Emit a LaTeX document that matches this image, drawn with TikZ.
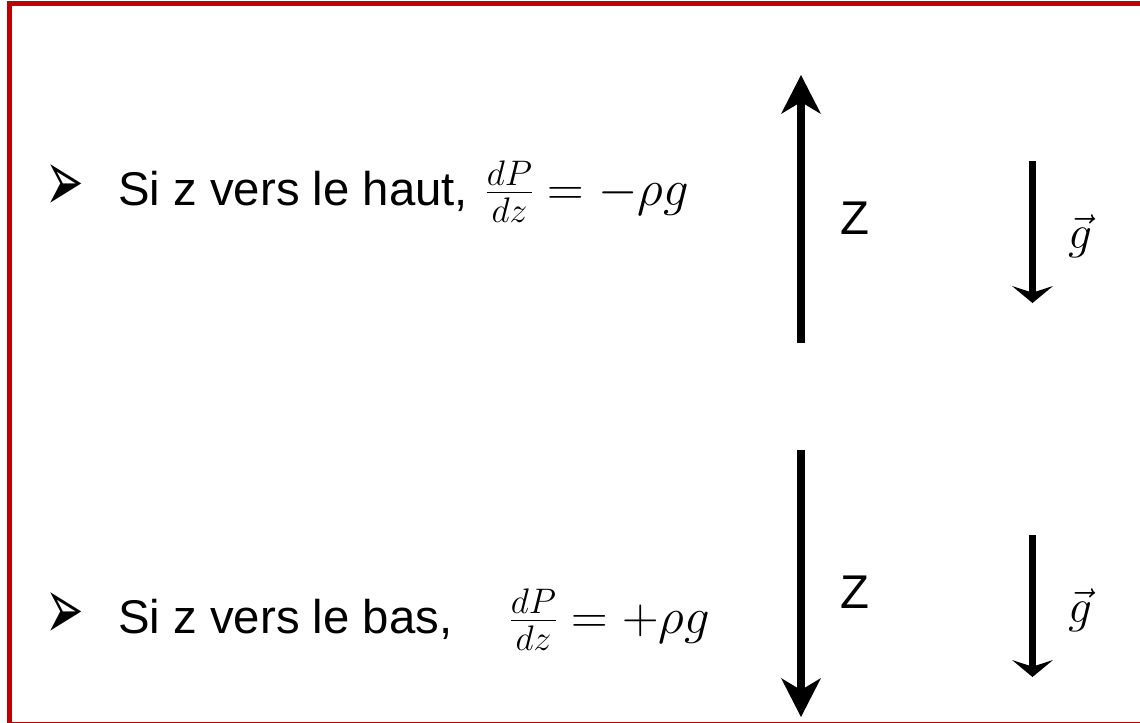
\RequirePackage{fix-cm}
\documentclass[tikz,border=0pt]{standalone}
\usepackage{amsmath}
\usepackage{graphicx}
\usepackage{fontspec}
\setmainfont{Liberation Sans}
\newfontfamily\symbfont{DejaVu Sans}
\usetikzlibrary{arrows.meta}
\definecolor{framered}{HTML}{C00000}
\newcommand{\puceglyph}{\scalebox{1.15}[2.2]{\symbfont ➢}}

\begin{document}
\begin{tikzpicture}[
  x=0.75pt, y=-0.75pt,
  txt/.style={anchor=base west, inner sep=0pt, font=\fontsize{35.5}{40}\selectfont},
  eq/.style={anchor=base west, inner sep=0pt, font=\fontsize{38}{44}\selectfont},
  lbl/.style={inner sep=0pt, font=\fontsize{35.5}{40}\selectfont},
  puce/.style={inner sep=0pt, font=\fontsize{30}{34}\selectfont},
  axe/.style={line width=6pt, -{Stealth[length=29.25pt, width=30pt, inset=9pt, line width=0pt]}},
  grav/.style={line width=5.5pt, -{Stealth[length=12.75pt, width=30.75pt, inset=5pt, line width=0pt]}},
]
\useasboundingbox (0,0) rectangle (1140,722);
\clip (0,0) rectangle (1140,722);
\draw[framered, line width=3.75pt] (9.5,3.5) rectangle (1150,724);

\node[puce] (puce1) at (65,188) {\puceglyph};
\node[txt] (haut) at (118,205) {Si z vers le haut,};
\node[eq] (eqhaut) at (485,205) {$\frac{dP}{dz}=-\rho g$};
\node[puce] (puce2) at (65,616) {\puceglyph};
\node[txt] (bas) at (118,633) {Si z vers le bas,};
\node[eq] (eqbas) at (509,633) {$\frac{dP}{dz}=+\rho g$};

\coordinate (zh0) at (801,343);
\coordinate (zh1) at (801,75);
\coordinate (zb0) at (801,450);
\coordinate (zb1) at (801,717);
\coordinate (gh0) at (1032.5,161);
\coordinate (gh1) at (1032.5,303);
\coordinate (gb0) at (1032.5,535);
\coordinate (gb1) at (1032.5,677);

\draw[axe] (zh0) -- (zh1);
\draw[axe] (zb0) -- (zb1);
\draw[grav] (gh0) -- (gh1);
\draw[grav] (gb0) -- (gb1);

\node[lbl] (zhaut) at (855,218) {Z};
\node[lbl] (zbas) at (855,592) {Z};
\node[lbl] (ghaut) at (1080,236) {$\vec{g}$};
\node[lbl] (gbas) at (1080,610) {$\vec{g}$};
\end{tikzpicture}
\end{document}
